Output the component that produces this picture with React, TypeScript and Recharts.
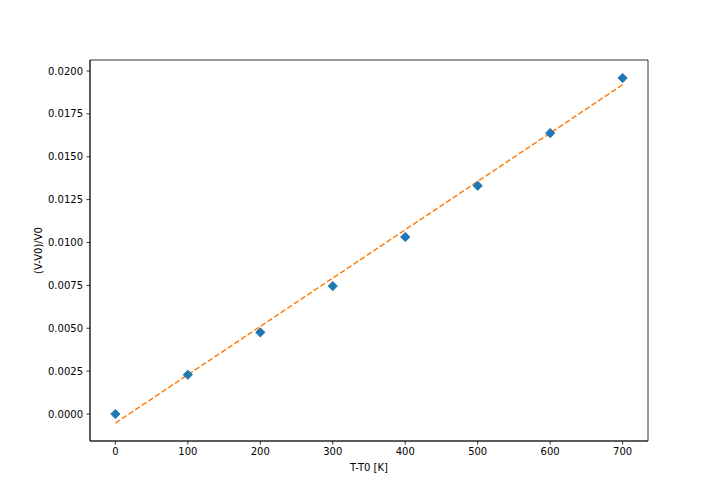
import { ComposedChart, Scatter, Line, XAxis, YAxis, Label, ReferenceArea } from 'recharts'

// temperature offsets T-T0 [K]
const temps = [0, 100, 200, 300, 400, 500, 600, 700]
// relative volume change (V-V0)/V0
const volChange = [0.0, 0.00229, 0.00476, 0.00746, 0.01032, 0.01331, 0.01638, 0.01959]

// fitted line, endpoints
const fitTemps = [0, 700]
const fitValues = [-0.00053, 0.0192]

const xTicks = [0, 100, 200, 300, 400, 500, 600, 700]
const yTicks = [0, 0.0025, 0.005, 0.0075, 0.01, 0.0125, 0.015, 0.0175, 0.02]

const xDomain = [-35, 735]
const yDomain = [-0.001574, 0.020641]

const points = temps.map((t, i) => ({ x: t, y: volChange[i] }))
const fit = fitTemps.map((t, i) => ({ x: t, fit: fitValues[i] }))

const font = '"DejaVu Sans", sans-serif'
const tickStyle = { fontSize: 10, fill: '#000', fontFamily: font }

const Diamond = (props: any) => {
  const { cx, cy } = props
  const r = 4.6
  return (
    <polygon
      points={`${cx},${cy - r} ${cx + r},${cy} ${cx},${cy + r} ${cx - r},${cy}`}
      fill="#1f77b4"
      stroke="#1f77b4"
      strokeWidth={1}
    />
  )
}

export default function App() {
  return (
    <div style={{ position: 'absolute', left: 0, top: 0, width: 720, height: 504, background: '#fff' }}>
      <ComposedChart
        width={720}
        height={504}
        margin={{ top: 60, right: 72, bottom: 0, left: 0 }}
      >
        <XAxis
          dataKey="x"
          type="number"
          domain={xDomain}
          ticks={xTicks}
          allowDataOverflow
          height={63}
          tickSize={3.5}
          tickMargin={3}
          tick={tickStyle}
          stroke="#000"
          strokeWidth={0.8}
        >
          <Label
            content={(p: any) => {
              const vb = p.viewBox
              return (
                <text
                  x={vb.x + vb.width / 2}
                  y={471}
                  textAnchor="middle"
                  fontSize={10}
                  fontFamily={font}
                  fill="#000"
                >
                  T-T0 [K]
                </text>
              )
            }}
          />
        </XAxis>
        <YAxis
          type="number"
          domain={yDomain}
          ticks={yTicks}
          allowDataOverflow
          width={90}
          tickSize={3.5}
          tickMargin={3.5}
          tick={tickStyle}
          tickFormatter={(v: number) => v.toFixed(4)}
          stroke="#000"
          strokeWidth={0.8}
        >
          <Label
            content={(p: any) => {
              const vb = p.viewBox
              const cy = vb.y + vb.height / 2
              return (
                <text
                  x={38}
                  y={cy}
                  transform={`rotate(-90, 38, ${cy})`}
                  textAnchor="middle"
                  dominantBaseline="central"
                  fontSize={10}
                  fontFamily={font}
                  fill="#000"
                >
                  (V-V0)/V0
                </text>
              )
            }}
          />
        </YAxis>
        {/* full frame around the plot area */}
        <ReferenceArea
          x1={xDomain[0]}
          x2={xDomain[1]}
          y1={yDomain[0]}
          y2={yDomain[1]}
          fill="none"
          fillOpacity={0}
          stroke="#000"
          strokeWidth={0.8}
          strokeOpacity={1}
          ifOverflow="visible"
        />
        <Scatter data={points} dataKey="y" shape={Diamond} isAnimationActive={false} />
        <Line
          data={fit}
          dataKey="fit"
          type="linear"
          stroke="#ff7f0e"
          strokeWidth={1.5}
          strokeDasharray="5.55 2.4"
          dot={false}
          activeDot={false}
          isAnimationActive={false}
        />
      </ComposedChart>
    </div>
  )
}
